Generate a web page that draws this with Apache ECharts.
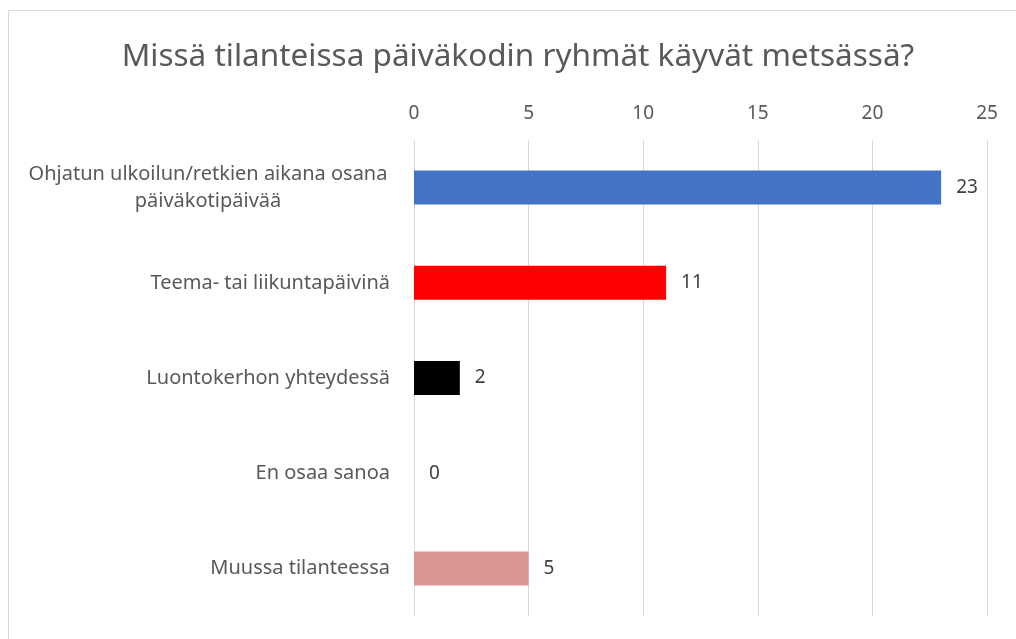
<!DOCTYPE html>
<html>
<head>
<meta charset="utf-8">
<script src="https://cdn.jsdelivr.net/npm/echarts@6/dist/echarts.min.js"></script>
<style>
html,body{margin:0;padding:0;background:#fff;}
#c{width:1016px;height:639px;}
</style>
</head>
<body>
<div id="c"></div>
<script>
const titleText = 'Missä tilanteissa päiväkodin ryhmät käyvät metsässä?';
const categories = [
  'Ohjatun ulkoilun/retkien aikana osana päiväkotipäivää',
  'Teema- tai liikuntapäivinä',
  'Luontokerhon yhteydessä',
  'En osaa sanoa',
  'Muussa tilanteessa'
];
const values = [23, 11, 2, 0, 5];
const barColors = ['#4472C4', '#FF0000', '#000000', '#A5A5A5', '#D99694'];
const axisMin = 0, axisMax = 25, axisStep = 5;

const FONT = 'Noto Sans';
const chart = echarts.init(document.getElementById('c'));
chart.setOption({
  animation: false,
  backgroundColor: '#fff',
  textStyle: { fontFamily: FONT },
  title: {
    text: titleText,
    left: 513,
    textAlign: 'center',
    top: 36,
    textStyle: { fontFamily: FONT, fontSize: 31.5, fontWeight: 'normal', color: '#595959' }
  },
  graphic: [{
    type: 'rect',
    shape: { x: 8.5, y: 10.5, width: 1100, height: 700 },
    style: { fill: 'none', stroke: '#D9D9D9', lineWidth: 1 },
    silent: true
  }],
  grid: { left: 414, right: 29, top: 140, bottom: 23, containLabel: false },
  xAxis: {
    type: 'value',
    position: 'top',
    min: axisMin, max: axisMax, interval: axisStep,
    axisLine: { show: false },
    axisTick: { show: false },
    axisLabel: { fontFamily: FONT, fontSize: 19, color: '#595959', margin: 17 },
    splitLine: { show: true, lineStyle: { color: '#D9D9D9', width: 1 } }
  },
  yAxis: {
    type: 'category',
    inverse: true,
    data: categories,
    axisLine: { show: false },
    axisTick: { show: false },
    axisLabel: {
      fontFamily: FONT, fontSize: 20, color: '#595959', margin: 24, lineHeight: 27,
      formatter: function (v) {
        if (v.length > 40) {
          const i = v.lastIndexOf(' ');
          return '{c|' + v.slice(0, i) + '}\n{c|' + v.slice(i + 1) + '}';
        }
        return v;
      },
      rich: { c: { width: 364, align: 'center', fontFamily: FONT, fontSize: 20, color: '#595959', lineHeight: 27 } }
    }
  },
  series: [{
    type: 'bar',
    data: values.map((v, i) => ({ value: v, itemStyle: { color: barColors[i] } })),
    barWidth: 34,
    label: {
      show: true, position: 'right', distance: 15,
      fontFamily: FONT, fontSize: 19, color: '#404040'
    }
  }]
});
</script>
</body>
</html>
